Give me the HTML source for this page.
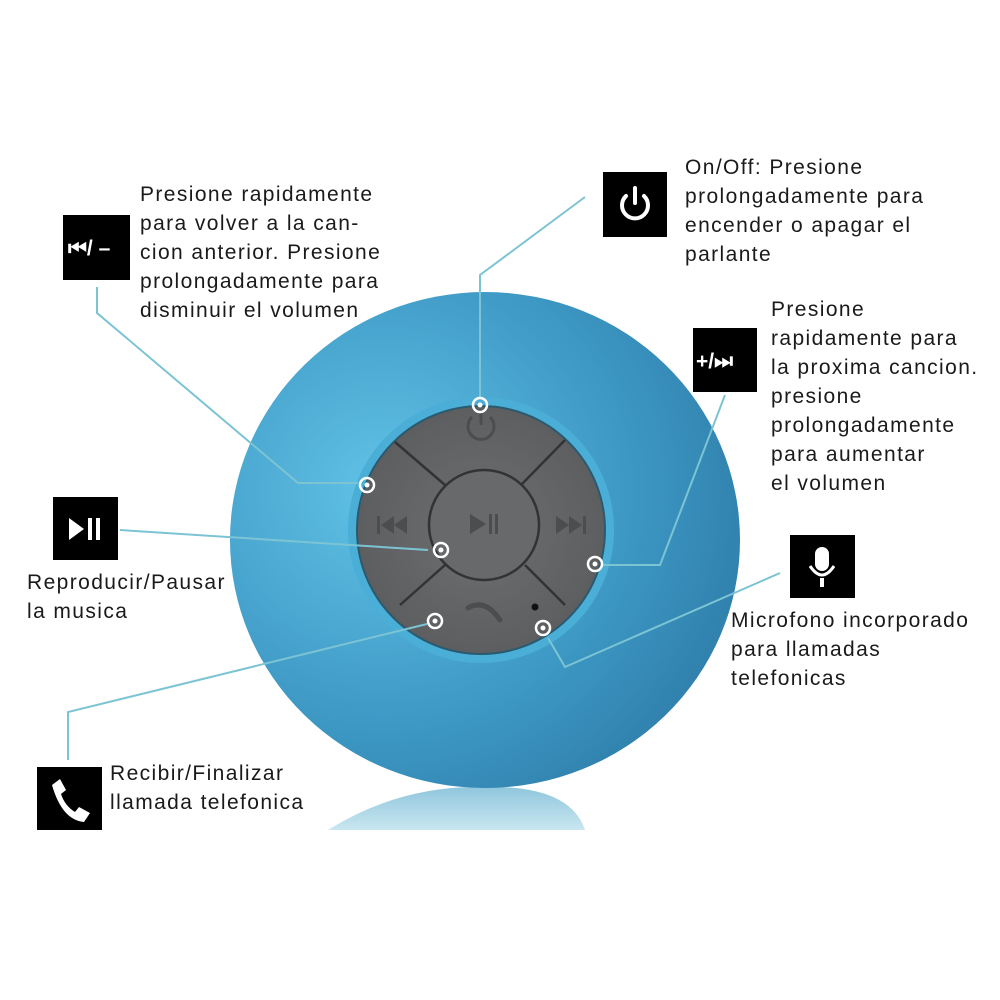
<!DOCTYPE html>
<html><head><style>
body{margin:0;width:1000px;height:1000px;background:#fff;overflow:hidden}
svg{display:block}
text{font-family:"Liberation Sans",sans-serif;font-size:21px;letter-spacing:1.4px;fill:#1a1a1a}
</style></head><body>
<svg width="1000" height="1000" viewBox="0 0 1000 1000">
<defs>
<radialGradient id="ball" cx="0.3" cy="0.4" r="0.8">
<stop offset="0" stop-color="#62c2e6"/><stop offset="0.6" stop-color="#3d98c4"/><stop offset="1" stop-color="#2d7aa6"/>
</radialGradient>
<linearGradient id="refl" x1="0" y1="0" x2="0" y2="1">
<stop offset="0" stop-color="#8fc6dc"/><stop offset="1" stop-color="#c9e6f1"/>
</linearGradient>
<radialGradient id="pad" cx="0.5" cy="0.5" r="0.5">
<stop offset="0" stop-color="#6e6f71"/><stop offset="1" stop-color="#5d5e60"/>
</radialGradient>
</defs>
<path d="M328 830 Q400 785 485 787 Q570 785 585 830 Z" fill="url(#refl)"/>
<ellipse cx="485" cy="540" rx="255" ry="248" fill="url(#ball)"/>
<circle cx="481" cy="530" r="133" fill="#4aaed6"/>
<circle cx="481" cy="530" r="124" fill="url(#pad)" stroke="#2a5a70" stroke-width="2"/>
<g stroke="#333" stroke-width="2.5">
<line x1="395" y1="442" x2="445" y2="485"/>
<line x1="565" y1="440" x2="522" y2="484"/>
<line x1="400" y1="605" x2="445" y2="565"/>
<line x1="565" y1="605" x2="525" y2="565"/>
</g>
<circle cx="484" cy="525" r="55" fill="#68696b" stroke="#333" stroke-width="2.5"/>
<g fill="none" stroke="#4c4d4f" stroke-width="3">
<path d="M472 417 A13 13 0 1 0 490 417"/><line x1="481" y1="410" x2="481" y2="425"/>
</g>
<g fill="#4c4d4f">
<path d="M470 514 L486 524 L470 534Z"/><rect x="489" y="514" width="3" height="20"/><rect x="495" y="514" width="3" height="20"/>
<rect x="377" y="516" width="3" height="18"/><path d="M394 516 L381 525 L394 534Z"/><path d="M407 516 L394 525 L407 534Z"/>
<path d="M556 516 L569 525 L556 534Z"/><path d="M569 516 L582 525 L569 534Z"/><rect x="583" y="516" width="3" height="18"/>
<circle cx="535" cy="607" r="3.5" fill="#111"/>
</g>
<path d="M468 608 Q485 598 500 620" stroke="#4c4d4f" stroke-width="5" fill="none" stroke-linecap="round"/>
<g stroke="#7cc4d4" stroke-width="2" fill="none">
<polyline points="97,287 97,313 298,483 358,483"/>
<polyline points="585,197 480,275 480,398"/>
<polyline points="725,395 660,565 603,565"/>
<polyline points="120,530 428,550"/>
<polyline points="68,760 68,712 427,624"/>
<polyline points="780,573 565,667 548,638"/>
</g>
<g fill="none" stroke="#fff" stroke-width="2.5">
<circle cx="480" cy="405" r="7"/><circle cx="367" cy="485" r="7"/><circle cx="441" cy="550" r="7"/>
<circle cx="595" cy="564" r="7"/><circle cx="435" cy="621" r="7"/><circle cx="543" cy="628" r="7"/>
</g>
<g fill="#fff"><circle cx="480" cy="405" r="2.5"/><circle cx="367" cy="485" r="2.5"/><circle cx="441" cy="550" r="2.5"/><circle cx="595" cy="564" r="2.5"/><circle cx="435" cy="621" r="2.5"/><circle cx="543" cy="628" r="2.5"/></g>
<rect x="63" y="215" width="67" height="65" fill="#000"/>
<text x="68" y="255" style="fill:#fff;font-weight:bold;font-size:21px;letter-spacing:0">⏮/ –</text>
<rect x="603" y="172" width="64" height="65" fill="#000"/>
<g fill="none" stroke="#fff" stroke-width="4" stroke-linecap="round"><path d="M626 196 A13 13 0 1 0 644 196"/><line x1="635" y1="188" x2="635" y2="203"/></g>
<rect x="693" y="328" width="64" height="64" fill="#000"/>
<text x="696" y="368" style="fill:#fff;font-weight:bold;font-size:21px;letter-spacing:0">+/⏭</text>
<rect x="53" y="497" width="65" height="63" fill="#000"/>
<path d="M69 518 L84 529 L69 540Z" fill="#fff"/><rect x="88" y="518" width="4" height="22" fill="#fff"/><rect x="96" y="518" width="4" height="22" fill="#fff"/>
<rect x="790" y="535" width="65" height="63" fill="#000"/>
<rect x="815" y="547" width="14" height="24" rx="7" fill="#fff"/><path d="M810 566 Q822 584 834 566" stroke="#fff" stroke-width="3" fill="none"/><rect x="820" y="578" width="4" height="9" fill="#fff"/>
<rect x="37" y="767" width="65" height="63" fill="#000"/>
<path d="M52 785 L60 779 L66 790 L61 794 Q65 806 75 812 L79 807 L90 813 L84 822 Q62 820 52 785Z" fill="#fff"/>
<text x="140" y="201">Presione rapidamente</text>
<text x="140" y="230">para volver a la can-</text>
<text x="140" y="259">cion anterior. Presione</text>
<text x="140" y="288">prolongadamente para</text>
<text x="140" y="317">disminuir el volumen</text>
<text x="685" y="174">On/Off: Presione</text>
<text x="685" y="203">prolongadamente para</text>
<text x="685" y="232">encender o apagar el</text>
<text x="685" y="261">parlante</text>
<text x="771" y="316">Presione</text>
<text x="771" y="345">rapidamente para</text>
<text x="771" y="374">la proxima cancion.</text>
<text x="771" y="403">presione</text>
<text x="771" y="432">prolongadamente</text>
<text x="771" y="461">para aumentar</text>
<text x="771" y="490">el volumen</text>
<text x="27" y="589">Reproducir/Pausar</text>
<text x="27" y="618">la musica</text>
<text x="731" y="627">Microfono incorporado</text>
<text x="731" y="656">para llamadas</text>
<text x="731" y="685">telefonicas</text>
<text x="110" y="780">Recibir/Finalizar</text>
<text x="110" y="809">llamada telefonica</text>
</svg>
</body></html>
